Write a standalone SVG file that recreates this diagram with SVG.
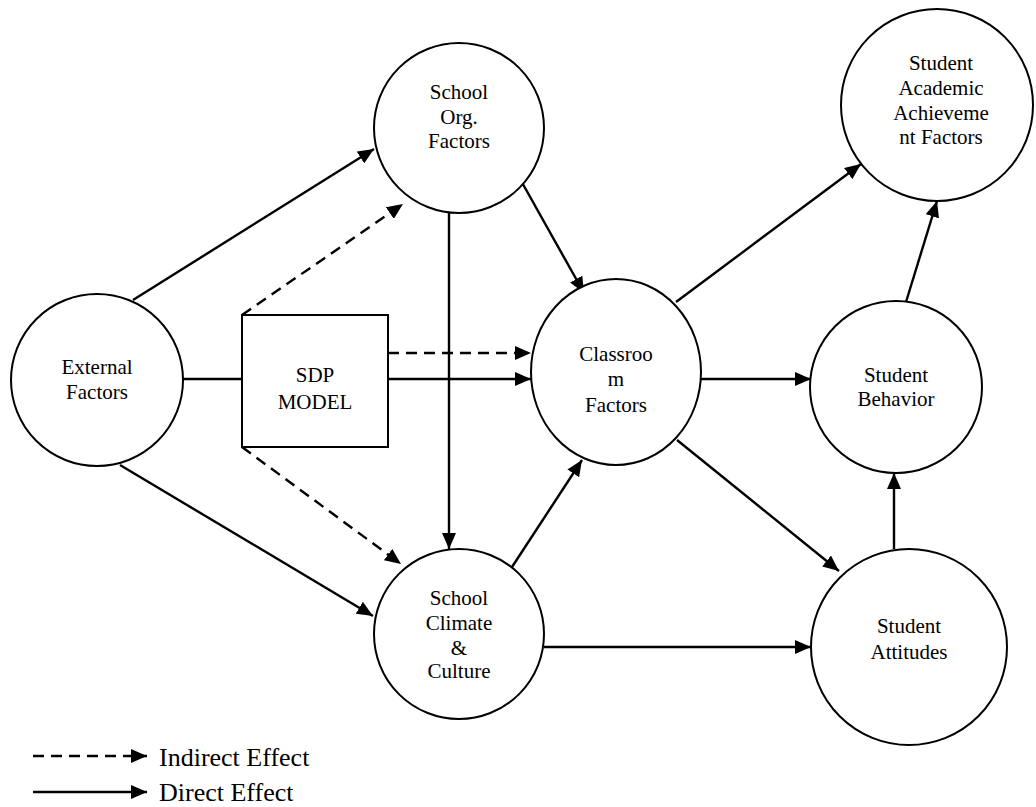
<svg xmlns="http://www.w3.org/2000/svg" width="1036" height="807" viewBox="0 0 1036 807">
<style>
.n{fill:#fff;stroke:#000;stroke-width:2}
.t{font-family:"Liberation Serif","Times New Roman",serif;font-size:21px;fill:#000;text-anchor:middle}
.lg{font-family:"Liberation Serif","Times New Roman",serif;font-size:26px;fill:#000}
.c{stroke:#000;stroke-width:2.4;fill:none}
.d{stroke-dasharray:11,7}
.a{marker-end:url(#ah)}
</style>
<defs>
<marker id="ah" viewBox="0 0 16 14" refX="16" refY="7" markerWidth="16" markerHeight="14" markerUnits="userSpaceOnUse" orient="auto">
<path d="M0,0 L16,7 L0,14 z" fill="#000"/>
</marker>
</defs>
<rect width="1036" height="807" fill="#fff"/>
<g id="connectors">
<line class="c" x1="183" y1="379" x2="242" y2="379"/>
<line class="c a" x1="133" y1="300" x2="374" y2="149"/>
<line class="c a d" x1="242" y1="315" x2="403" y2="204"/>
<line class="c a" x1="120" y1="465" x2="373" y2="616"/>
<line class="c a d" x1="242" y1="447" x2="401" y2="564"/>
<line class="c a" x1="449" y1="213" x2="449" y2="549"/>
<line class="c a" x1="515" y1="170" x2="584" y2="293"/>
<line class="c a d" x1="388" y1="353" x2="531" y2="353"/>
<line class="c a" x1="388" y1="379" x2="531" y2="379"/>
<line class="c a" x1="512" y1="567" x2="582" y2="460"/>
<line class="c a" x1="676" y1="302" x2="861" y2="164"/>
<line class="c a" x1="701" y1="379" x2="811" y2="379"/>
<line class="c a" x1="677" y1="440" x2="839" y2="571"/>
<line class="c a" x1="544" y1="647" x2="811" y2="647"/>
<line class="c a" x1="894" y1="549" x2="894" y2="473"/>
<line class="c a" x1="906" y1="302" x2="937" y2="201"/>
</g>
<g id="external">
<circle class="n" cx="97" cy="380" r="86"/>
<text class="t" x="97" y="374">External</text>
<text class="t" x="97" y="399">Factors</text>
</g>
<g id="sdp">
<rect class="n" x="242" y="315" width="146" height="132"/>
<text class="t" x="315" y="382">SDP</text>
<text class="t" x="315" y="409">MODEL</text>
</g>
<g id="school-org">
<circle class="n" cx="459" cy="128" r="85"/>
<text class="t" x="459" y="99">School</text>
<text class="t" x="459" y="124">Org.</text>
<text class="t" x="459" y="148">Factors</text>
</g>
<g id="school-climate">
<circle class="n" cx="459" cy="634" r="85"/>
<text class="t" x="459" y="605">School</text>
<text class="t" x="459" y="630">Climate</text>
<text class="t" x="459" y="655">&amp;</text>
<text class="t" x="459" y="678">Culture</text>
</g>
<g id="classroom">
<ellipse class="n" cx="616" cy="372" rx="85" ry="93"/>
<text class="t" x="616" y="361">Classroo</text>
<text class="t" x="616" y="386">m</text>
<text class="t" x="616" y="412">Factors</text>
</g>
<g id="academic">
<circle class="n" cx="937" cy="105" r="96"/>
<text class="t" x="941" y="70">Student</text>
<text class="t" x="941" y="95">Academic</text>
<text class="t" x="941" y="120">Achieveme</text>
<text class="t" x="941" y="144">nt Factors</text>
</g>
<g id="behavior">
<circle class="n" cx="896" cy="387" r="86"/>
<text class="t" x="896" y="382">Student</text>
<text class="t" x="896" y="406">Behavior</text>
</g>
<g id="attitudes">
<circle class="n" cx="909" cy="647" r="98"/>
<text class="t" x="909" y="633">Student</text>
<text class="t" x="909" y="659">Attitudes</text>
</g>
<g id="legend">
<line class="c a d" x1="33" y1="756" x2="147" y2="756"/>
<line class="c a" x1="33" y1="792" x2="147" y2="792"/>
<text class="lg" x="159" y="766">Indirect Effect</text>
<text class="lg" x="159" y="801">Direct Effect</text>
</g>
</svg>
